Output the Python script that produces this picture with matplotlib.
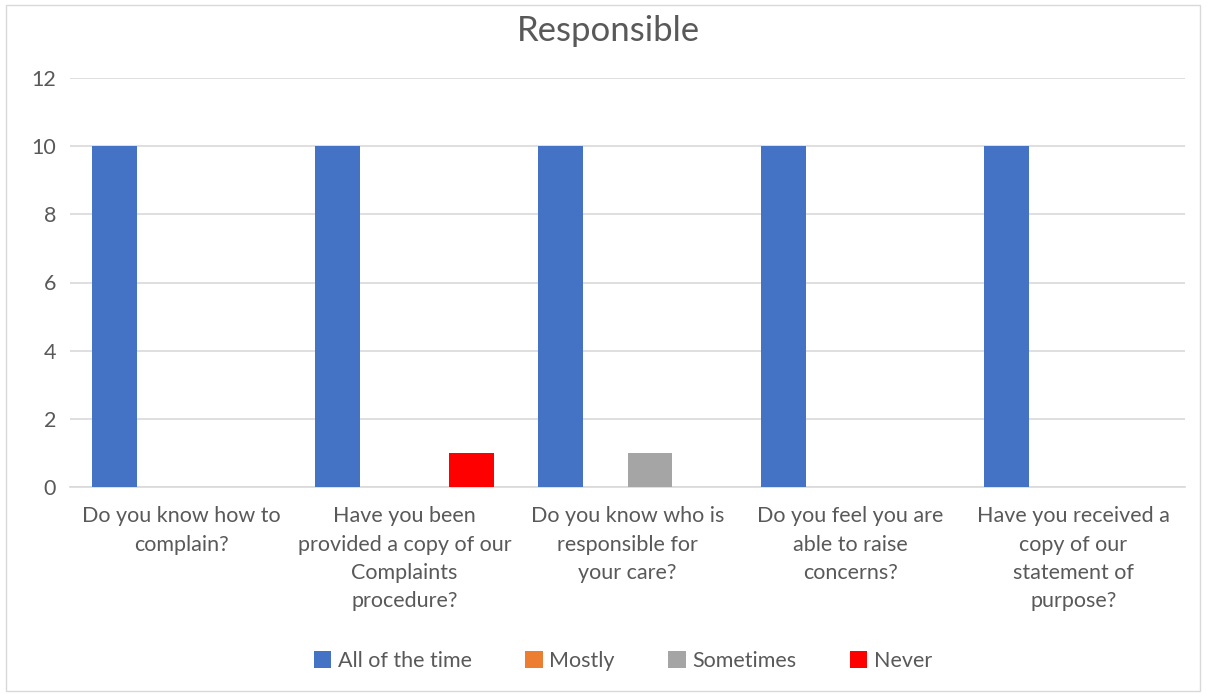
import numpy as np
import matplotlib
matplotlib.use('Agg')
import matplotlib.pyplot as plt
from matplotlib.patches import Rectangle

# Данные
categories = ['Do you know how to\ncomplain?',
              'Have you been\nprovided a copy of our\nComplaints\nprocedure?',
              'Do you know who is\nresponsible for\nyour care?',
              'Do you feel you are\nable to raise\nconcerns?',
              'Have you received a\ncopy of our\nstatement of\npurpose?']
series_names = ['All of the time', 'Mostly', 'Sometimes', 'Never']
all_of_the_time = [10, 10, 10, 10, 10]
mostly = [0, 0, 0, 0, 0]
sometimes = [0, 0, 1, 0, 0]
never = [0, 1, 0, 0, 0]
colors = ['#4472c4', '#ed7d31', '#a5a5a5', '#ff0000']

plt.rcParams['font.family'] = ['Lato', 'DejaVu Sans']
text_color = '#595959'
grid_color = '#d9d9d9'

fig = plt.figure(figsize=(12.07, 6.97), dpi=100)
ax = fig.add_axes([70 / 1207, 1 - 487 / 697, 1115 / 1207, 409 / 697])

# рамка вокруг рисунка
fig.patches.append(Rectangle((6 / 1207, 6 / 697), 1194 / 1207, 686 / 697,
                             transform=fig.transFigure, fill=False,
                             edgecolor='#d9d9d9', linewidth=1))

x = np.arange(len(categories))
width = 0.2
values = [all_of_the_time, mostly, sometimes, never]
for i, (name, vals) in enumerate(zip(series_names, values)):
    ax.bar(x + (i - 1.5) * width, vals, width, color=colors[i], label=name, zorder=3)

ax.set_xlim(-0.5, len(categories) - 0.5)
ax.set_ylim(0, 12)
ax.set_yticks(range(0, 13, 2))
ax.grid(axis='y', color=grid_color, linewidth=1.2, zorder=0)
for s in ['top', 'right', 'left']:
    ax.spines[s].set_visible(False)
ax.spines['bottom'].set_color(grid_color)
ax.spines['bottom'].set_linewidth(1.2)
ax.tick_params(axis='both', length=0, colors=text_color, labelsize=15.5)
ax.tick_params(axis='y', pad=10)
ax.tick_params(axis='x', pad=14)
ax.set_xticks(x)
ax.set_xticklabels(categories, linespacing=1.52)

fig.text(608 / 1207, 1 - 31 / 697, 'Responsible', ha='center', va='center',
         fontsize=25, color=text_color)

leg = fig.legend(loc='center', bbox_to_anchor=(623 / 1207, 1 - 661 / 697), ncol=4,
                 frameon=False, fontsize=15.5, handlelength=0.8, handleheight=0.8,
                 handletextpad=0.3, columnspacing=2.5)
for t in leg.get_texts():
    t.set_color(text_color)

plt.savefig('out.png', dpi=100)
